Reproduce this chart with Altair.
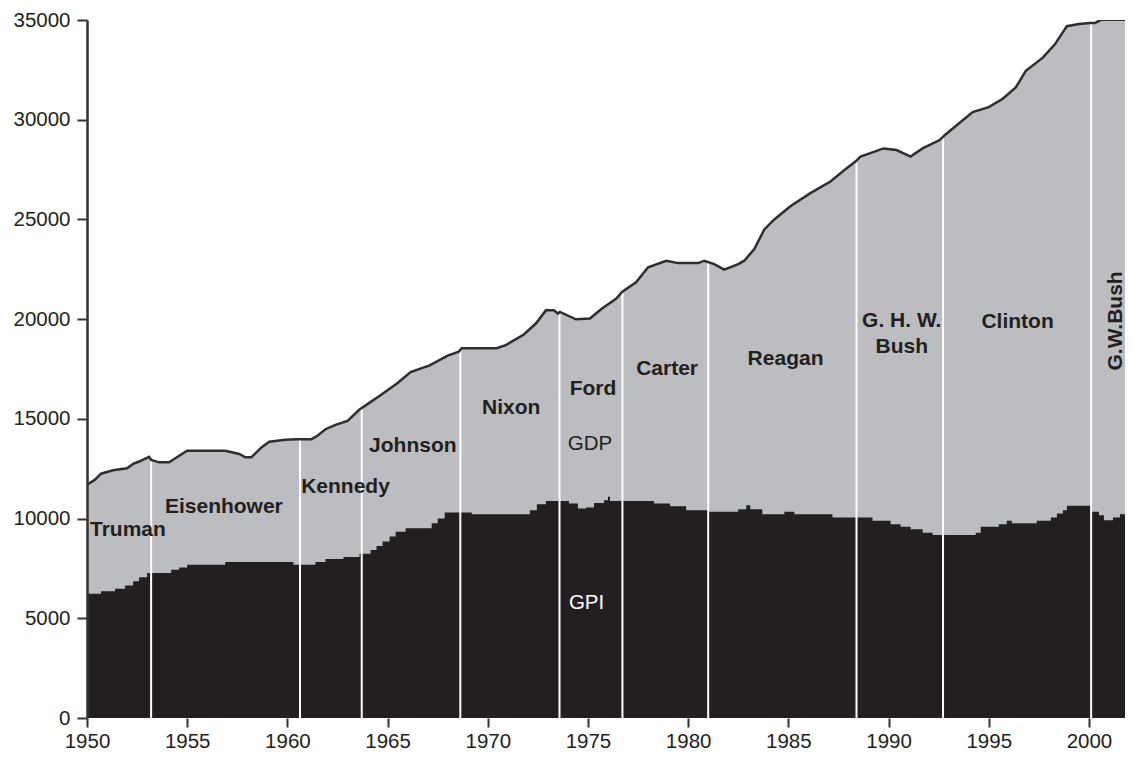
import altair as alt
import pandas as pd
import numpy as np

# ---------------- data ----------------
gdp_years = [1950.0, 1950.4, 1950.7, 1951.3, 1952.0, 1952.3, 1952.6, 1953.1, 1953.2, 1953.6,
             1954.1, 1954.6, 1955.0, 1956.9, 1957.6, 1957.9, 1958.2, 1958.7, 1959.1, 1959.9,
             1960.5, 1961.2, 1961.5, 1961.9, 1962.4, 1963.0, 1963.6, 1963.85, 1964.7, 1965.5,
             1966.15, 1967.1, 1968.0, 1968.55, 1968.7, 1970.45, 1970.9, 1971.8, 1972.4, 1972.9,
             1973.3, 1973.5, 1973.6, 1974.4, 1975.1, 1975.7, 1976.4, 1976.7, 1977.4, 1978.0,
             1978.9, 1979.5, 1980.5, 1980.8, 1981.3, 1981.8, 1982.5, 1982.8, 1983.3, 1983.8,
             1984.3, 1985.1, 1986.1, 1987.1, 1987.8, 1988.35, 1988.6, 1989.75, 1990.4, 1991.1,
             1991.7, 1992.55, 1992.8, 1993.4, 1994.2, 1995.0, 1995.7, 1996.35, 1996.85, 1997.7,
             1998.3, 1998.9, 1999.5, 2000.05, 2000.3, 2000.6, 2001.8]
gdp_values = [11700, 11950, 12250, 12420, 12520, 12740, 12860, 13100, 12940, 12820,
              12820, 13150, 13400, 13400, 13240, 13070, 13070, 13570, 13850, 13950,
              13980, 13980, 14150, 14480, 14700, 14900, 15470, 15640, 16220, 16800,
              17350, 17680, 18170, 18370, 18540, 18540, 18700, 19230, 19780, 20440,
              20440, 20280, 20360, 19990, 20030, 20530, 21020, 21360, 21850, 22600,
              22930, 22810, 22810, 22930, 22760, 22480, 22760, 22930, 23510, 24500,
              25000, 25660, 26320, 26900, 27480, 27900, 28150, 28560, 28480, 28150,
              28560, 28980, 29220, 29720, 30380, 30630, 31050, 31620, 32450, 33110,
              33780, 34690, 34800, 34850, 34850, 35010, 35010]

gpi_years = [1950.0, 1950.7, 1951.4, 1951.9, 1952.3, 1952.6, 1953.0, 1954.2, 1954.6, 1955.0,
             1956.9, 1960.3, 1961.4, 1961.9, 1962.8, 1963.6, 1964.15, 1964.45, 1964.75, 1965.1,
             1965.4, 1965.9, 1967.2, 1967.5, 1967.85, 1969.2, 1972.1, 1972.45, 1972.9, 1974.05,
             1974.5, 1974.9, 1975.3, 1975.8, 1976.0, 1976.1, 1978.3, 1979.1, 1979.9, 1981.0,
             1982.5, 1982.9, 1983.1, 1983.7, 1984.8, 1985.3, 1987.2, 1989.2, 1990.1, 1990.6,
             1991.1, 1991.7, 1992.2, 1994.35, 1994.6, 1995.5, 1995.9, 1996.15, 1997.4, 1998.1,
             1998.4, 1998.7, 1998.9, 2000.15, 2000.5, 2000.75, 2001.2, 2001.55, 2001.8]
gpi_values = [6230, 6360, 6480, 6650, 6860, 7060, 7270, 7440, 7550, 7690,
              7820, 7690, 7820, 7970, 8070, 8240, 8430, 8630, 8850, 9100,
              9340, 9510, 9760, 10000, 10300, 10220, 10420, 10720, 10880, 10750,
              10500, 10550, 10780, 10920, 11100, 10880, 10750, 10620, 10420, 10340,
              10470, 10670, 10470, 10220, 10340, 10220, 10050, 9890, 9720, 9590,
              9460, 9290, 9180, 9290, 9590, 9720, 9890, 9760, 9890, 10050,
              10250, 10420, 10640, 10340, 10170, 9920, 10050, 10220, 10220]

transition_years = [1953.2, 1960.63, 1963.71, 1968.63, 1973.58, 1976.72, 1981.0, 1988.4, 1992.72, 2000.11]

president_names = ["Truman", "Eisenhower", "Kennedy", "Johnson", "Nixon", "Ford", "Carter",
                   "Reagan", "G. H. W.", "Bush", "Clinton"]
president_x = [1952.04, 1956.83, 1962.9, 1966.26, 1971.17, 1975.25, 1978.95,
               1984.86, 1990.66, 1990.66, 1996.44]
president_y = [9130, 10290, 11280, 13320, 15230, 16220, 17210,
               17710, 19590, 18290, 19570]

rotated_name = ["G.W.Bush"]
rotated_x = [2001.63]
rotated_y = [19910]

series_names = ["GDP", "GPI"]
series_x = [1975.1, 1974.93]
series_y = [13440, 5480]
series_colors = ["#231f20", "#ffffff"]

x_ticks = list(range(1950, 2001, 5))
y_ticks = list(range(0, 35001, 5000))

# ---------------- styling ----------------
FONT = "Liberation Sans"
DARK = "#231f20"
GRAY = "#bcbdc0"

x_scale = alt.Scale(domain=[1950, 2001.8], nice=False, zero=False)
y_scale = alt.Scale(domain=[0, 35000], nice=False)

x_axis = alt.Axis(values=x_ticks, format="d", title=None, grid=False, domain=False,
                  tickSize=9, tickWidth=2, tickColor="#333333",
                  labelFont=FONT, labelFontSize=20.5, labelColor=DARK, labelPadding=4,
                  labelFlush=False)
y_axis = alt.Axis(values=y_ticks, format="d", title=None, grid=False,
                  domainWidth=2.5, domainColor="#333333",
                  tickSize=10, tickWidth=2, tickColor="#333333",
                  labelFont=FONT, labelFontSize=20.5, labelColor=DARK, labelPadding=7,
                  labelFlush=False, zindex=1)


def X(field):
    return alt.X(f"{field}:Q", scale=x_scale, axis=x_axis)


def Y(field):
    return alt.Y(f"{field}:Q", scale=y_scale, axis=y_axis)


gdp_df = pd.DataFrame({"year": gdp_years, "value": gdp_values})
gpi_df = pd.DataFrame({"year": gpi_years, "value": gpi_values})
rule_df = pd.DataFrame({
    "year": transition_years,
    "bottom": [0] * len(transition_years),
    "top": np.interp(transition_years, gdp_years, gdp_values),
})
pres_df = pd.DataFrame({"name": president_names, "year": president_x, "value": president_y})
rot_df = pd.DataFrame({"name": rotated_name, "year": rotated_x, "value": rotated_y})
ser_df = pd.DataFrame({"name": series_names, "year": series_x, "value": series_y,
                       "color": series_colors})

gdp_area = alt.Chart(gdp_df).mark_area(color=GRAY, interpolate="linear", clip=True).encode(
    x=X("year"), y=Y("value"))

gpi_area = alt.Chart(gpi_df).mark_area(color=DARK, interpolate="step-after", clip=True).encode(
    x=X("year"), y=Y("value"))

rules = alt.Chart(rule_df).mark_rule(color="white", strokeWidth=2).encode(
    x=X("year"), y=Y("bottom"), y2="top:Q")

gdp_line = alt.Chart(gdp_df).mark_line(color="#2e2e2e", strokeWidth=2.5, interpolate="linear",
                                       clip=True).encode(x=X("year"), y=Y("value"))

pres_text = alt.Chart(pres_df).mark_text(font=FONT, fontSize=21, fontWeight="bold", color=DARK,
                                         align="center", baseline="alphabetic").encode(
    x=X("year"), y=Y("value"), text="name:N")

rot_text = alt.Chart(rot_df).mark_text(font=FONT, fontSize=21, fontWeight="bold", color=DARK,
                                       align="center", baseline="alphabetic", angle=270).encode(
    x=X("year"), y=Y("value"), text="name:N")

ser_text = alt.Chart(ser_df).mark_text(font=FONT, fontSize=20.5, fontWeight="normal",
                                       align="center", baseline="alphabetic").encode(
    x=X("year"), y=Y("value"), text="name:N",
    color=alt.Color("color:N", scale=None))

chart = alt.layer(gdp_area, gpi_area, rules, gdp_line, pres_text, rot_text, ser_text).properties(
    width=1038, height=698,
    padding={"left": 79, "top": 12, "right": 0, "bottom": 35},
    autosize=alt.AutoSizeParams(type="none"),
    background="white",
).configure_view(stroke=None)

chart.save("out.html", embed_options={"renderer": "svg", "actions": False})
